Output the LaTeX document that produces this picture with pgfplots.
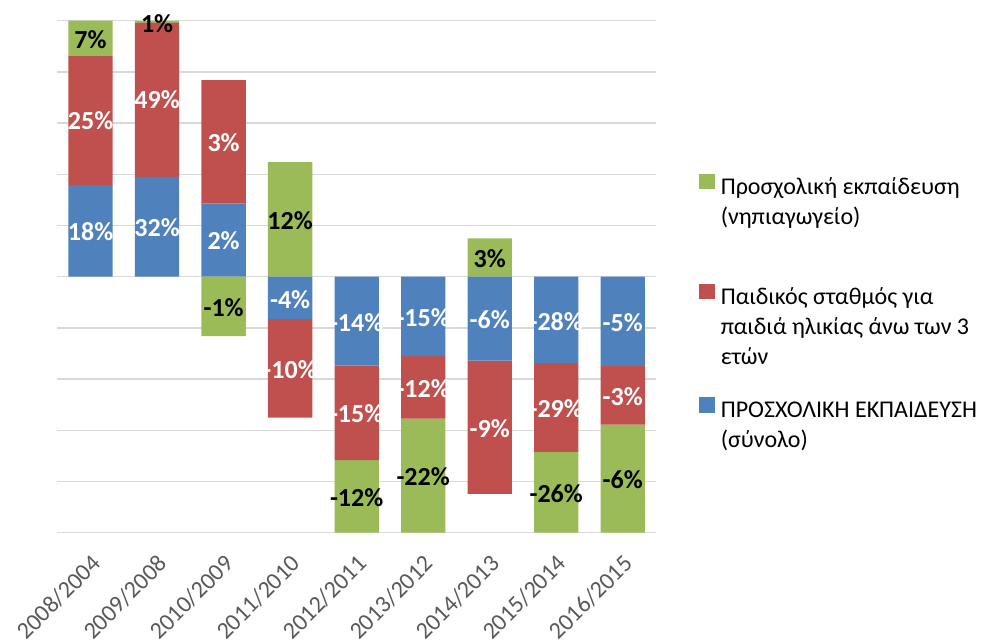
\documentclass[border=0pt]{standalone}
\usepackage{fontspec}
\setmainfont{Carlito}
\usepackage{pgfplots}
\usepackage{pgfplotstable}
\pgfplotsset{compat=1.18}

\definecolor{blu}{HTML}{4F81BD}
\definecolor{rd}{HTML}{C0504D}
\definecolor{grn}{HTML}{9BBB59}
\definecolor{gridc}{HTML}{D9D9D9}
\definecolor{tickc}{HTML}{595959}

% visible bar heights (the chart is clipped at +-50)
\pgfplotstableread{
x  blue  red   green
0  17.9  25.2  6.9
1  19.5  30.1  0.35
2  14.3  24.1  0
3  0     0     22.4
4  0     0     0
5  0     0     0
6  0     0     7.5
7  0     0     0
8  0     0     0
}\tpos
\pgfplotstableread{
x  blue   red    green
0  0      0      0
1  0      0      0
2  0      0      -11.6
3  -8.3   -19.2  0
4  -17.3  -18.5  -14.2
5  -15.5  -12.2  -22.3
6  -16.4  -26.0  0
7  -16.9  -17.3  -15.8
8  -17.4  -11.5  -21.1
}\tneg
% data labels: position and text
\pgfplotstableread{
x  y      lbl
0  8.9    18
0  30.4   25
1  9.6    32
1  34.6   49
2  7.0    2
2  26.1   3
3  -4.4   -4
3  -18.1  -10
4  -8.9   -14
4  -26.8  -15
5  -8.0   -15
5  -21.9  -12
6  -8.4   -6
6  -29.6  -9
7  -8.7   -28
7  -25.8  -29
8  -9.0   -5
8  -23.5  -3
}\twhite
\pgfplotstableread{
x  y      lbl
0  46.3   7
1  49.4   1
2  -6.0   -1
3  11.0   12
4  -43.1  -12
5  -39.1  -22
6  3.6    3
7  -42.4  -26
8  -39.7  -6
}\tblack

\pgfplotsset{
  base/.style={
    scale only axis, width=299.35pt, height=256pt,
    at={(28.65pt,-266.35pt)}, anchor=south west,
    xmin=-0.5, xmax=8.5, ymin=-50, ymax=50,
    legend cell align=left,
    legend style={draw=none, fill=none, inner sep=0pt, outer sep=0pt,
      row sep=3pt, column sep=3pt,
      nodes={inner sep=0pt, text height=9pt, text depth=3pt,
        font=\fontsize{12}{14}\selectfont, text=black},
      anchor=north west},
  },
  sq/.style={legend image code/.code={\fill[#1] (0pt,-0.2pt) rectangle (7.35pt,7.15pt);}},
  lbl/.style={draw=none, mark=none, forget plot,
    point meta=explicit symbolic,
    nodes near coords={\pgfplotspointmeta\%},
    every node near coord/.append style={anchor=center, text=#1,
      font=\fontsize{13}{15}\selectfont\bfseries}},
}

\begin{document}
\begin{tikzpicture}
\useasboundingbox (0,0) rectangle (503pt,-319.5pt);
\clip (0,0) rectangle (503pt,-319.5pt);

% positive parts, grid, ticks
\begin{axis}[base,
  ybar stacked, bar width=22.15pt,
  axis line style={draw=none},
  major tick length=0pt,
  ytick={-50,-40,...,50}, yticklabels={},
  ymajorgrids, grid style={gridc, line width=0.7pt},
  xtick={0,...,8},
  xticklabels={2008/2004,2009/2008,2010/2009,2011/2010,2012/2011,2013/2012,2014/2013,2015/2014,2016/2015},
  xticklabel style={xshift=-0.25pt, yshift=-10.15pt, rotate=45,
    anchor=north east, inner sep=0pt, text=tickc,
    font=\fontsize{12}{14}\selectfont},
  legend style={at={(1.07233,0.70117)}},
]
\addplot[fill=blu, draw=none, forget plot] table[x=x, y=blue] {\tpos};
\addplot[fill=rd, draw=none, forget plot] table[x=x, y=red] {\tpos};
\addplot[fill=grn, draw=none, forget plot] table[x=x, y=green] {\tpos};
\addlegendimage{sq=grn}
\addlegendentry{Προσχολική εκπαίδευση}
\addlegendimage{empty legend}
\addlegendentry{(νηπιαγωγείο)}
\end{axis}

% negative parts
\begin{axis}[base, hide axis,
  ybar stacked, bar width=22.15pt,
  legend style={at={(1.07233,0.48633)}},
]
\addplot[fill=blu, draw=none, forget plot] table[x=x, y=blue] {\tneg};
\addplot[fill=rd, draw=none, forget plot] table[x=x, y=red] {\tneg};
\addplot[fill=grn, draw=none, forget plot] table[x=x, y=green] {\tneg};
\addlegendimage{sq=rd}
\addlegendentry{Παιδικός σταθμός για}
\addlegendimage{empty legend}
\addlegendentry{παιδιά ηλικίας άνω των 3}
\addlegendimage{empty legend}
\addlegendentry{ετών}
\end{axis}

% data labels
\begin{axis}[base, hide axis, clip=false,
  legend style={at={(1.07233,0.26504)}},
]
\addplot[lbl=white] table[x=x, y=y, meta=lbl] {\twhite};
\addplot[lbl=black] table[x=x, y=y, meta=lbl] {\tblack};
\addlegendimage{sq=blu}
\addlegendentry{ΠΡΟΣΧΟΛΙΚΗ ΕΚΠΑΙΔΕΥΣΗ}
\addlegendimage{empty legend}
\addlegendentry{(σύνολο)}
\end{axis}
\end{tikzpicture}
\end{document}
